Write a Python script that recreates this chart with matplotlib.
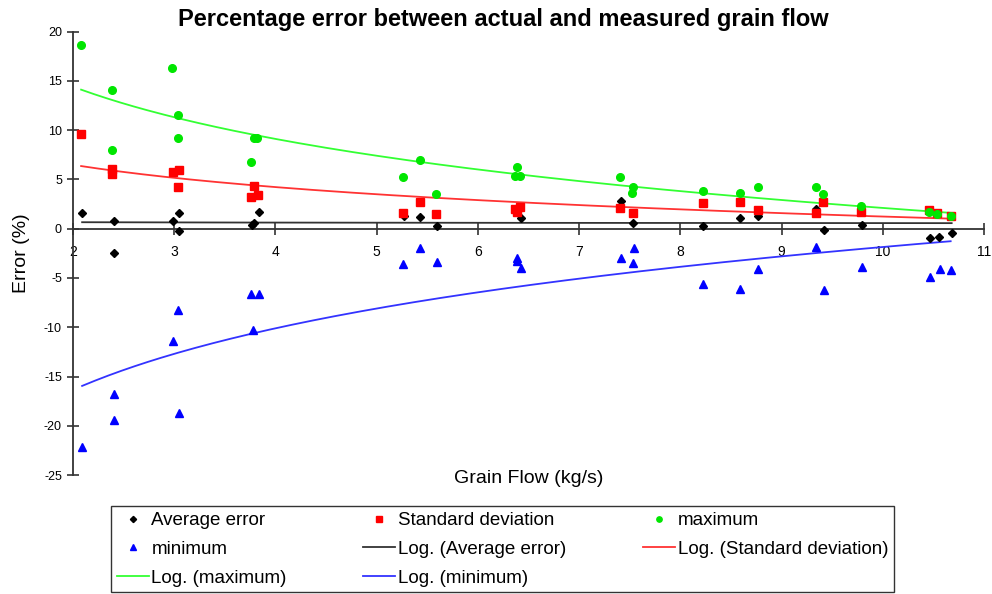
"""Percentage error between actual and measured grain flow"""
import numpy as np
from matplotlib import pyplot as plt

avg_x = [2.09, 2.40, 2.40, 2.99, 3.05, 3.05, 3.77, 3.79, 3.84, 5.27, 5.43, 5.60,
         6.43, 7.41, 7.53, 8.22, 8.59, 8.77, 9.34, 9.42, 9.79, 10.47, 10.55, 10.68]
avg_y = [1.56, 0.75, -2.44, 0.78, 1.56, -0.23, 0.37, 0.60, 1.73, 1.29, 1.19, 0.27,
         1.12, 2.81, 0.61, 0.27, 1.12, 1.29, 1.97, -0.17, 0.37, -0.98, -0.84, -0.44]

std_x = [2.08, 2.39, 2.39, 2.99, 3.05, 3.04, 3.79, 3.76, 3.83, 5.26, 5.43, 5.59, 6.37,
         6.39, 6.42, 7.40, 7.53, 8.22, 8.59, 8.77, 9.34, 9.41, 9.78, 10.46, 10.54, 10.67]
std_y = [9.58, 6.03, 5.58, 5.79, 5.96, 4.23, 4.33, 3.19, 3.42, 1.56, 2.71, 1.52, 1.97,
         1.73, 2.20, 2.13, 1.60, 2.64, 2.71, 1.87, 1.62, 2.71, 1.73, 1.93, 1.62, 1.29]

max_x = [2.08, 2.39, 2.39, 2.98, 3.04, 3.04, 3.79, 3.82, 3.76, 5.43, 5.26, 5.59, 6.39, 6.37,
         6.42, 7.40, 7.53, 7.52, 8.22, 8.59, 8.77, 9.34, 9.41, 9.78, 10.46, 10.54, 10.67]
max_y = [18.65, 14.1, 7.96, 16.35, 11.5, 9.24, 9.24, 9.24, 6.8, 6.97, 5.25, 3.55, 6.26, 5.35,
         5.35, 5.25, 4.27, 3.66, 3.83, 3.66, 4.2, 4.2, 3.49, 2.27, 1.73, 1.46, 1.29]

min_x = [2.09, 2.40, 2.40, 2.99, 3.04, 3.05, 3.76, 3.84, 3.78, 5.43, 5.26, 5.60, 6.39, 6.39,
         6.43, 7.41, 7.54, 7.53, 8.22, 8.59, 8.77, 9.34, 9.42, 9.79, 10.47, 10.56, 10.67]
min_y = [-22.2, -16.8, -19.45, -11.4, -8.2, -18.7, -6.6, -6.6, -10.3, -1.99, -3.62, -3.35,
         -3.0, -3.28, -3.96, -3.0, -1.93, -3.52, -5.58, -6.16, -4.06, -1.82, -6.26, -3.86,
         -4.9, -4.12, -4.19]

series = [
    ("Average error", avg_x, avg_y, "black", "D", 4.5, "#333333"),
    ("Standard deviation", std_x, std_y, "#ff0000", "s", 5.5, "#ff3333"),
    ("maximum", max_x, max_y, "#00e600", "o", 5.5, "#33ff33"),
    ("minimum", min_x, min_y, "#0000ff", "^", 6, "#3333ff"),
]

plt.rcParams["font.family"] = ["Liberation Sans", "DejaVu Sans"]
plt.rcParams["axes.unicode_minus"] = False

fig = plt.figure(figsize=(9.92, 5.94), dpi=100)
ax = fig.add_axes([0.0736, 0.2003, 0.9184, 0.7463])

handles = {}
for name, xs, ys, color, marker, ms, lcolor in series:
    xs = np.array(xs)
    ys = np.array(ys)
    (pt,) = ax.plot(xs, ys, ls="none", marker=marker, ms=ms, color=color,
                    mec=color, zorder=3, label=name)
    # logarithmic trendline, like Excel's "Log." fit
    a, b = np.polyfit(np.log(xs), ys, 1)
    xf = np.linspace(xs.min(), xs.max(), 200)
    (ln,) = ax.plot(xf, a * np.log(xf) + b, color=lcolor, lw=1.3, zorder=2,
                    label="Log. (" + name + ")")
    handles[name] = pt
    handles["Log. (" + name + ")"] = ln

ax.set_xlim(2, 11)
ax.set_ylim(-25, 20)
ax.set_xticks(range(2, 12))
ax.set_yticks(range(-25, 21, 5))

for side in ["top", "right"]:
    ax.spines[side].set_visible(False)
ax.spines["bottom"].set_position(("data", 0))
for side in ["left", "bottom"]:
    ax.spines[side].set_color("#333333")
    ax.spines[side].set_linewidth(1.3)

ax.tick_params(axis="x", direction="inout", length=8, width=1.2, color="#333333",
               labelsize=10, pad=8)
ax.tick_params(axis="y", direction="inout", length=8, width=1.2, color="#333333",
               labelsize=9, pad=4)

ax.set_xlabel("Grain Flow (kg/s)", fontsize=14, va="center")
ax.xaxis.set_label_coords(0.5, -0.008)
ax.set_ylabel("Error (%)", fontsize=14, va="center")
ax.yaxis.set_label_coords(-0.056, 0.5)

fig.text(0.507, 0.968, "Percentage error between actual and measured grain flow",
         ha="center", va="center", fontsize=17, fontweight="bold")

order = ["Average error", "minimum", "Log. (maximum)",
         "Standard deviation", "Log. (Average error)", "Log. (minimum)",
         "maximum", "Log. (Standard deviation)"]
leg = fig.legend([handles[k] for k in order], order, ncol=3, mode="expand",
                 loc="lower left", bbox_to_anchor=(0.112, 0.003, 0.789, 0.148),
                 fontsize=13.5, frameon=True, fancybox=False, edgecolor="black",
                 handlelength=1.7, handletextpad=0.15, borderpad=0.3,
                 labelspacing=0.62, markerscale=0.7, borderaxespad=0,
                 columnspacing=0.5)
leg.get_frame().set_linewidth(1.0)

fig.savefig("out.png", dpi=100)
